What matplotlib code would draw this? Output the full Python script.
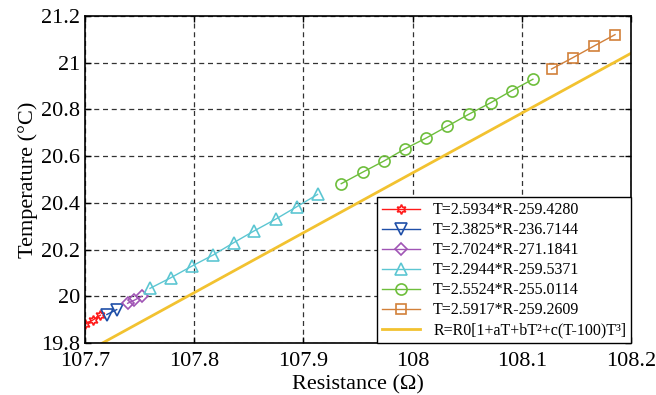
import matplotlib
matplotlib.use("Agg")
import matplotlib.pyplot as plt
from matplotlib.ticker import FormatStrFormatter, MultipleLocator

plt.rcParams['font.family'] = ['Liberation Serif', 'DejaVu Serif']

# fitted segments (resistance in ohm, temperature in degC)
r_red = [107.700, 107.707, 107.714]
t_red = [19.880, 19.898, 19.919]

r_blue = [107.720, 107.729]
t_blue = [19.922, 19.943]

r_purple = [107.739, 107.745, 107.752]
t_purple = [19.970, 19.983, 20.000]

r_cyan = [107.7595, 107.7784, 107.7982, 107.8174, 107.8363,
          107.8549, 107.8745, 107.8937, 107.9129]
t_cyan = [20.034, 20.079, 20.130, 20.177, 20.230,
          20.280, 20.330, 20.383, 20.436]

r_green = [107.9346, 107.9541, 107.9737, 107.9929, 108.0126,
           108.0318, 108.0517, 108.0716, 108.0906, 108.1101]
t_green = [20.482, 20.531, 20.579, 20.631, 20.678,
           20.728, 20.780, 20.829, 20.880, 20.929]

r_orange = [108.1272, 108.1465, 108.1663, 108.1853]
t_orange = [20.973, 21.021, 21.072, 21.120]

r_cvd = [107.700, 107.937, 108.210]
t_cvd = [19.759, 20.367, 21.066]

labels = ["T=2.5934*R-259.4280", "T=2.3825*R-236.7144", "T=2.7024*R-271.1841",
          "T=2.2944*R-259.5371", "T=2.5524*R-255.0114", "T=2.5917*R-259.2609",
          "R=R0[1+aT+bT²+c(T-100)T³]"]

fig = plt.figure(figsize=(6.56, 3.95), dpi=100)
ax = fig.add_axes([0.1296, 0.1316, 0.8324, 0.828])

ax.plot(r_red, t_red, color='#ff1a1a', lw=1, marker=(6, 1, 0), ms=7, mfc='none', mew=1.2, label=labels[0])
ax.plot(r_blue, t_blue, color='#1f4fa8', lw=1, marker='v', ms=8, mfc='none', mew=1.2, label=labels[1])
ax.plot(r_purple, t_purple, color='#a055b5', lw=1, marker='D', ms=6, mfc='none', mew=1.2, label=labels[2])
ax.plot(r_cyan, t_cyan, color='#5cc6d2', lw=1, marker='^', ms=8, mfc='none', mew=1.2, label=labels[3])
ax.plot(r_green, t_green, color='#6ebe3c', lw=1, marker='o', ms=8, mfc='none', mew=1.2, label=labels[4])
ax.plot(r_orange, t_orange, color='#d2803a', lw=1, marker='s', ms=7, mfc='none', mew=1.2, label=labels[5])
ax.plot(r_cvd, t_cvd, color='#f2c230', lw=2, label=labels[6])

ax.set_xlim(107.7, 108.2)
ax.set_ylim(19.8, 21.2)
ax.xaxis.set_major_locator(MultipleLocator(0.1))
ax.yaxis.set_major_locator(MultipleLocator(0.2))
ax.xaxis.set_major_formatter(FormatStrFormatter('%g'))
ax.yaxis.set_major_formatter(FormatStrFormatter('%g'))
ax.tick_params(direction='in', top=True, right=True, labelsize=16, length=4, width=1)
ax.tick_params(axis='x', pad=6.5)
ax.grid(True, color='#333333', ls=(0, (4, 3)), lw=0.9)
for s in ax.spines.values():
    s.set_linewidth(1.2)

ax.set_xlabel("Resistance (Ω)", fontsize=16, labelpad=3)
ax.set_ylabel("Temperature (°C)", fontsize=16, labelpad=2)

leg = ax.legend(loc='lower right', fontsize=11.5, borderaxespad=0, fancybox=False,
                edgecolor='black', framealpha=1, handlelength=2.4, labelspacing=0.25,
                borderpad=0.3)
leg.get_frame().set_linewidth(1.0)

fig.savefig("out.png", dpi=100)
